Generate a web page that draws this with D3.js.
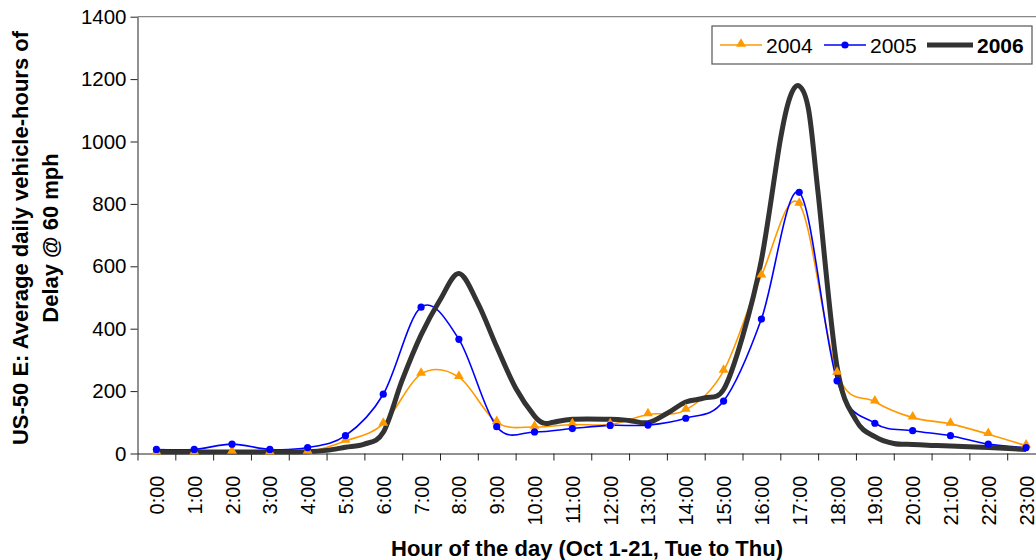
<!DOCTYPE html>
<html>
<head>
<meta charset="utf-8">
<script src="https://cdn.jsdelivr.net/npm/d3@7"></script>
<style>
  body { margin: 0; background: #fff; }
  svg { font-family: Arial, "Liberation Sans", sans-serif; }
</style>
</head>
<body>
<div id="chart"></div>
<script>
// hour categories on the x axis
const hours = ["0:00", "1:00", "2:00", "3:00", "4:00", "5:00", "6:00", "7:00", "8:00", "9:00", "10:00", "11:00",
  "12:00", "13:00", "14:00", "15:00", "16:00", "17:00", "18:00", "19:00", "20:00", "21:00", "22:00", "23:00"];

// hourly values
const delay2004 = [3, 3, 5, 3, 5, 40, 95, 255, 245, 100, 85, 93, 93, 125, 140, 265, 570, 800, 258, 166, 115, 95, 62, 25];
const delay2005 = [13, 13, 30, 13, 19, 57, 190, 469, 366, 86, 69, 80, 90, 91, 113, 168, 431, 837, 233, 97, 73, 57, 30, 19];

// 2006 is a finer series (no markers), times in hours
const time2006 = [0, 1, 2, 3, 4, 4.5, 5, 5.5, 6, 6.5, 7, 7.5, 8, 8.5, 9, 9.5, 10, 10.25, 10.5, 11, 12, 12.5, 13, 13.5,
  14, 14.5, 15, 15.5, 16, 16.5, 16.75, 17, 17.25, 17.5, 18, 18.5, 19, 19.5, 20, 20.5, 21, 22, 23];
const delay2006 = [5, 5, 5, 5, 6, 10, 20, 30, 68, 235, 380, 492, 577, 482, 342, 210, 120, 97, 100, 110, 110, 106, 99, 128,
  165, 178, 205, 374, 620, 1005, 1140, 1178, 1100, 834, 278, 107, 54, 32, 29, 26, 24, 19, 13];

const yTicks = [0, 200, 400, 600, 800, 1000, 1200, 1400];

const width = 1036, height = 560;

const svg = d3.select("#chart")
  .append("svg")
  .attr("width", width)
  .attr("height", height);

// categories sit between tick marks, so the scale runs half an hour past each end
const x = d3.scaleLinear().domain([-0.5, 23.5]).range([137.5, 1045]);
const y = d3.scaleLinear().domain([0, 1400]).range([453.5, 16.7]);

// top border of plot area
svg.append("line")
  .attr("x1", x(-0.5)).attr("x2", x(23.5))
  .attr("y1", y(1400)).attr("y2", y(1400))
  .attr("stroke", "#888").attr("stroke-width", 1.2);

// y axis
const yAxis = svg.append("g")
  .attr("transform", `translate(${x(-0.5)},0)`)
  .call(d3.axisLeft(y).tickValues(yTicks).tickSize(7).tickSizeOuter(0).tickPadding(4).tickFormat(d3.format("d")));
yAxis.selectAll("text").style("font-size", "20.5px").attr("fill", "#000");
yAxis.selectAll("line, path").attr("stroke", "#222");

// x axis: tick marks between categories
const xTicks = d3.range(-0.5, 24, 1);
const xAxis = svg.append("g")
  .attr("transform", `translate(0,${y(0)})`)
  .call(d3.axisBottom(x).tickValues(xTicks).tickSize(7).tickSizeOuter(0).tickFormat(""));
xAxis.selectAll("line, path").attr("stroke", "#222");

// x labels, rotated
const xLabels = svg.append("g")
  .attr("transform", `translate(0,${y(0)})`)
  .call(d3.axisBottom(x).tickValues(d3.range(24)).tickSize(0).tickFormat(i => hours[i]));
xLabels.select(".domain").remove();
xLabels.selectAll("text")
  .style("font-size", "20px")
  .attr("fill", "#000")
  .attr("text-anchor", "end")
  .attr("dy", "0.35em")
  .attr("y", 0)
  .attr("transform", "translate(0,22) rotate(-90)");

// axis titles
svg.append("text")
  .attr("x", 587).attr("y", 556)
  .attr("text-anchor", "middle")
  .style("font-size", "22px").style("font-weight", "bold")
  .text("Hour of the day (Oct 1-21, Tue to Thu)");

const yTitle = svg.append("text")
  .attr("transform", "translate(0,238) rotate(-90)")
  .attr("text-anchor", "middle")
  .style("font-size", "22px").style("font-weight", "bold");
yTitle.append("tspan").attr("x", 0).attr("y", 28).text("US-50 E: Average daily vehicle-hours of");
yTitle.append("tspan").attr("x", 0).attr("y", 58).text("Delay @ 60 mph");

// lines
const hourLine = d3.line()
  .x((d, i) => x(i))
  .y(d => y(d))
  .curve(d3.curveCardinal);

svg.append("path").datum(delay2004)
  .attr("d", hourLine)
  .attr("fill", "none").attr("stroke", "#FF9900").attr("stroke-width", 1.6);

svg.append("path").datum(delay2005)
  .attr("d", hourLine)
  .attr("fill", "none").attr("stroke", "#0000FF").attr("stroke-width", 1.6);

const line2006 = d3.line()
  .x(d => x(d[0]))
  .y(d => y(d[1]))
  .curve(d3.curveCardinal);

svg.append("path").datum(d3.zip(time2006, delay2006))
  .attr("d", line2006)
  .attr("fill", "none").attr("stroke", "#333333").attr("stroke-width", 5)
  .attr("stroke-linejoin", "round");

// markers
const tri = d3.symbol().type(d3.symbolTriangle).size(42);
svg.selectAll(".m2004")
  .data(delay2004)
  .join("path")
  .attr("class", "m2004")
  .attr("d", tri)
  .attr("transform", (d, i) => `translate(${x(i)},${y(d) - 1})`)
  .attr("fill", "#FF9900");

svg.selectAll(".m2005")
  .data(delay2005)
  .join("circle")
  .attr("class", "m2005")
  .attr("cx", (d, i) => x(i))
  .attr("cy", d => y(d))
  .attr("r", 3.6)
  .attr("fill", "#0000FF");

// legend
const legend = svg.append("g");
legend.append("rect")
  .attr("x", 712).attr("y", 26).attr("width", 320).attr("height", 38)
  .attr("fill", "#fff").attr("stroke", "#555").attr("stroke-width", 1.2);

const legendItems = [
  { name: "2004", color: "#FF9900", width: 1.6, x: 720, marker: "tri" },
  { name: "2005", color: "#0000FF", width: 1.6, x: 824, marker: "dot" },
  { name: "2006", color: "#333333", width: 5, x: 927, marker: null }
];
legendItems.forEach(item => {
  const len = item.marker ? 42 : 46;
  legend.append("line")
    .attr("x1", item.x).attr("x2", item.x + len)
    .attr("y1", 45).attr("y2", 45)
    .attr("stroke", item.color).attr("stroke-width", item.width);
  if (item.marker === "tri") {
    legend.append("path").attr("d", tri).attr("transform", `translate(${item.x + 21},44)`).attr("fill", item.color);
  } else if (item.marker === "dot") {
    legend.append("circle").attr("cx", item.x + 21).attr("cy", 45).attr("r", 3.6).attr("fill", item.color);
  }
  legend.append("text")
    .attr("x", item.x + len + 4).attr("y", 52.5)
    .style("font-size", "21px")
    .style("font-weight", item.name === "2006" ? "bold" : "normal")
    .text(item.name);
});
</script>
</body>
</html>
